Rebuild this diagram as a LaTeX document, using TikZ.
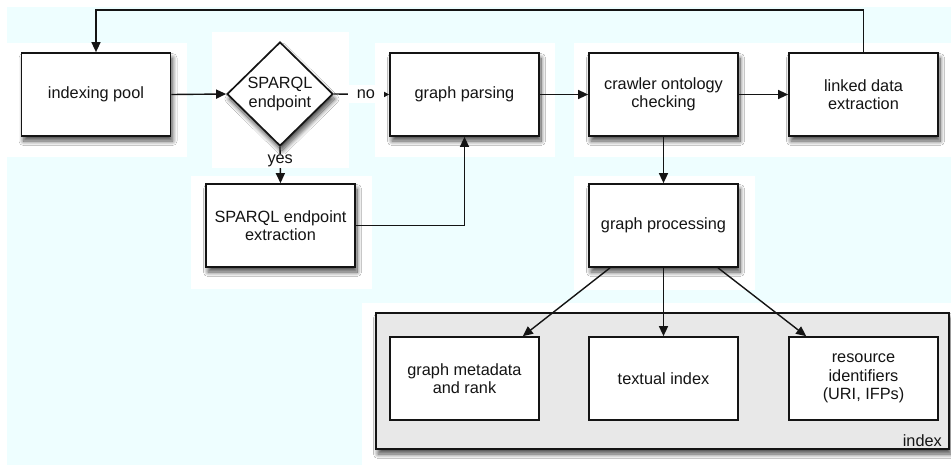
\documentclass[tikz,border=0pt]{standalone}
\usepackage{fontspec}
\setmainfont{Liberation Sans}
\usetikzlibrary{shapes.geometric,arrows.meta,shadows.blur}
\definecolor{bgcyan}{RGB}{238,254,255}
\definecolor{idxgray}{RGB}{232,232,232}
\definecolor{ink}{RGB}{20,20,20}
\tikzset{
  shd/.style={blur shadow={shadow xshift=2pt, shadow yshift=-5pt, shadow blur radius=4.5pt, shadow blur steps=12, shadow opacity=70}},
  box/.style={draw=ink, line width=1.7pt, fill=white, minimum width=149pt, minimum height=83pt, inner sep=0pt, align=center, font=\fontsize{16.3}{18.5}\selectfont, text=ink},
  dec/.style={shape=diamond, draw=ink, line width=1.7pt, fill=white, minimum width=106pt, minimum height=104pt, inner sep=0pt, align=center, font=\fontsize{16.3}{18.5}\selectfont, text=ink},
  container/.style={draw=ink, line width=1.7pt, fill=idxgray, minimum width=573pt, minimum height=136pt, inner sep=0pt},
  flow/.style={draw=ink, line width=1.4pt, -{Triangle[length=10pt,width=9pt]}},
  lbl/.style={fill=white, inner sep=1pt, font=\fontsize{16.3}{18.5}\selectfont, text=ink},
  patch/.style={fill=white, draw=none}
}
\begin{document}
\begin{tikzpicture}[x=1pt,y=-1pt]
\useasboundingbox (0,0) rectangle (951,466);
% background
\fill[white] (0,0) rectangle (951,466);
\fill[bgcyan] (7,7) rectangle (951,465);
\fill[patch] (7,43) rectangle (187,157);
\fill[patch] (212,32) rectangle (349,168);
\fill[patch] (375,43) rectangle (555,157);
\fill[patch] (574,43) rectangle (951,157);
\fill[patch] (191,176) rectangle (372,289);
\fill[patch] (574,176) rectangle (755,290);
\fill[patch] (362,303) rectangle (951,466);
% nodes
\node[box,shd] (pool) at (96,94.5) {indexing pool};
\node[dec,shd] (dia) at (280,94) {SPARQL\\endpoint};
\node[box,shd] (gpar) at (464.5,94.5) {graph parsing};
\node[box,shd] (crawl) at (663.5,94.5) {crawler ontology\\checking};
\node[box,shd] (ld) at (863.5,94.5) {linked data\\extraction};
\node[box,shd] (se) at (280.5,225.5) {SPARQL endpoint\\extraction};
\node[box,shd] (gproc) at (663.5,225.5) {graph processing};
\node[container,shd] (idx) at (662.5,381) {};
\node[anchor=base east, font=\fontsize{16.3}{18.5}\selectfont, text=ink, inner sep=0pt] (idxlbl) at (942,446) {index};
\node[box] (gm) at (464.5,378.5) {graph metadata\\and rank};
\node[box] (ti) at (663.5,378.5) {textual index};
\node[box] (ri) at (863.5,378.5) {resource\\identifiers\\(URI, IFPs)};
% connectors
\coordinate (tr) at (863.5,10);
\coordinate (tl) at (96,10);
\draw[flow] (ld.north) -- (tr) -- (tl) -- (pool.north);
\draw[flow] (pool.east) -- (dia.west);
\draw[draw=ink, line width=1.4pt, -{Triangle[length=6pt,width=6pt]}] (dia.east) -- node[lbl, pos=0.58, minimum width=36pt, minimum height=18pt] (no) {no} (gpar.west);
\draw[flow] (dia.south) -- node[lbl, pos=0.38] (yes) {yes} (se.north);
\draw[flow] (se.east) -| (gpar.south);
\draw[flow] (gpar.east) -- (crawl.west);
\draw[flow] (crawl.east) -- (ld.west);
\draw[flow] (crawl.south) -- (gproc.north);
\draw[flow] ([xshift=-53.5pt]gproc.south) -- ([xshift=-17pt]gm.north east);
\draw[flow] (gproc.south) -- (ti.north);
\draw[flow] ([xshift=54.5pt]gproc.south) -- ([xshift=18pt]ri.north west);
\end{tikzpicture}
\end{document}
